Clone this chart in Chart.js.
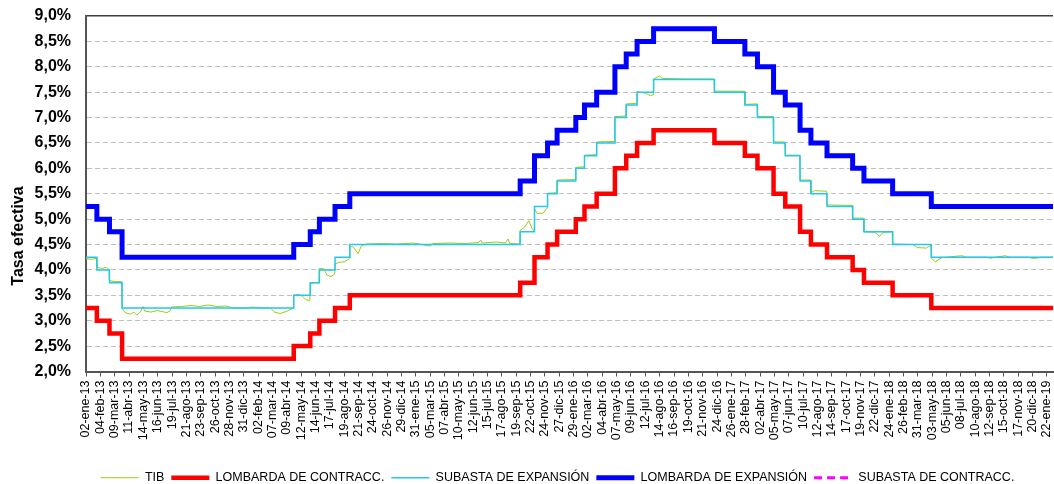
<!DOCTYPE html>
<html>
<head>
<meta charset="utf-8">
<script src="https://cdn.jsdelivr.net/npm/chart.js@4.4.1/dist/chart.umd.min.js"></script>
<style>
  html, body { margin: 0; padding: 0; background: #fff; }
  #wrap { width: 1054px; height: 484px; }
</style>
</head>
<body>
<div id="wrap"><canvas id="tasas"></canvas></div>
<script>
// Eje x: etiquetas cada 33 dias
const tickLabels = [
  '02-ene-13','04-feb-13','09-mar-13','11-abr-13','14-may-13','16-jun-13','19-jul-13','21-ago-13',
  '23-sep-13','26-oct-13','28-nov-13','31-dic-13','02-feb-14','07-mar-14','09-abr-14','12-may-14',
  '14-jun-14','17-jul-14','19-ago-14','21-sep-14','24-oct-14','26-nov-14','29-dic-14','31-ene-15',
  '05-mar-15','07-abr-15','10-may-15','12-jun-15','15-jul-15','17-ago-15','19-sep-15','22-oct-15',
  '24-nov-15','27-dic-15','29-ene-16','02-mar-16','04-abr-16','07-may-16','09-jun-16','12-jul-16',
  '14-ago-16','16-sep-16','19-oct-16','21-nov-16','24-dic-16','26-ene-17','28-feb-17','02-abr-17',
  '05-may-17','07-jun-17','10-jul-17','12-ago-17','14-sep-17','17-oct-17','19-nov-17','22-dic-17',
  '24-ene-18','26-feb-18','31-mar-18','03-may-18','05-jun-18','08-jul-18','10-ago-18','12-sep-18',
  '15-oct-18','17-nov-18','20-dic-18','22-ene-19'
];
const startDate = '2013-01-02';
const endDate = '2019-02-05';

// fechas de cambio de las tasas (escalones)
const stepDates = [
  '2013-01-02','2013-01-27','2013-02-25','2013-03-26','2014-04-25','2014-06-02','2014-06-23','2014-07-29',
  '2014-09-01','2015-09-28','2015-10-31','2015-11-30','2015-12-22','2016-02-03','2016-02-23','2016-03-22',
  '2016-05-03','2016-05-29','2016-06-23','2016-07-31','2016-12-18','2017-02-26','2017-03-27','2017-05-03',
  '2017-05-30','2017-07-03','2017-07-28','2017-09-03','2017-11-01','2017-11-27','2018-02-01','2018-05-01',
  '2019-02-05'
];
const lombardaExp = [
  5.25, 5.0, 4.75, 4.25, 4.5, 4.75, 5.0, 5.25,
  5.5, 5.75, 6.25, 6.5, 6.75, 7.0, 7.25, 7.5,
  8.0, 8.25, 8.5, 8.75, 8.5, 8.25, 8.0, 7.5,
  7.25, 6.75, 6.5, 6.25, 6.0, 5.75, 5.5, 5.25,
  5.25
];
const subastaExp = [
  4.25, 4.0, 3.75, 3.25, 3.5, 3.75, 4.0, 4.25,
  4.5, 4.75, 5.25, 5.5, 5.75, 6.0, 6.25, 6.5,
  7.0, 7.25, 7.5, 7.75, 7.5, 7.25, 7.0, 6.5,
  6.25, 5.75, 5.5, 5.25, 5.0, 4.75, 4.5, 4.25,
  4.25
];
const lombardaContr = [
  3.25, 3.0, 2.75, 2.25, 2.5, 2.75, 3.0, 3.25,
  3.5, 3.75, 4.25, 4.5, 4.75, 5.0, 5.25, 5.5,
  6.0, 6.25, 6.5, 6.75, 6.5, 6.25, 6.0, 5.5,
  5.25, 4.75, 4.5, 4.25, 4.0, 3.75, 3.5, 3.25,
  3.25
];
const subastaContrDates = [];
const subastaContr = [];

// TIB
const tibDates = [
  '2013-01-02','2013-01-14','2013-01-26','2013-01-27','2013-02-08','2013-02-18','2013-02-24','2013-02-25',
  '2013-03-10','2013-03-25','2013-03-26','2013-04-02','2013-04-14','2013-04-22','2013-04-29','2013-05-08',
  '2013-05-13','2013-05-17','2013-06-01','2013-06-15','2013-07-07','2013-07-14','2013-07-18','2013-08-10',
  '2013-09-01','2013-09-20','2013-10-10','2013-10-30','2013-11-20','2013-12-03','2013-12-28','2014-01-20',
  '2014-02-12','2014-03-02','2014-03-12','2014-03-25','2014-04-10','2014-04-24','2014-04-25','2014-05-06',
  '2014-05-15','2014-05-24','2014-06-01','2014-06-02','2014-06-12','2014-06-22','2014-06-23','2014-07-04',
  '2014-07-10','2014-07-20','2014-07-28','2014-07-29','2014-08-08','2014-08-20','2014-08-31','2014-09-01',
  '2014-09-08','2014-09-20','2014-09-28','2014-10-10','2014-11-15','2014-12-20','2015-01-25','2015-03-05',
  '2015-03-12','2015-04-20','2015-05-25','2015-06-25','2015-06-29','2015-07-03','2015-08-05','2015-08-25',
  '2015-08-31','2015-09-04','2015-09-27','2015-09-28','2015-10-08','2015-10-18','2015-10-26','2015-10-30',
  '2015-10-31','2015-11-06','2015-11-20','2015-11-29','2015-11-30','2015-12-21','2015-12-22','2016-02-02',
  '2016-02-03','2016-02-22','2016-02-23','2016-03-21','2016-03-22','2016-05-02','2016-05-03','2016-05-28',
  '2016-05-29','2016-06-22','2016-06-23','2016-07-12','2016-07-24','2016-07-30','2016-07-31','2016-08-14',
  '2016-08-20','2016-10-15','2016-12-17','2016-12-18','2017-02-25','2017-02-26','2017-03-26','2017-03-27',
  '2017-05-02','2017-05-03','2017-05-29','2017-05-30','2017-07-02','2017-07-03','2017-07-27','2017-07-28',
  '2017-08-05','2017-09-02','2017-09-03','2017-10-31','2017-11-01','2017-11-26','2017-11-27','2017-12-22',
  '2018-01-02','2018-01-10','2018-01-31','2018-02-01','2018-03-20','2018-03-30','2018-04-20','2018-04-30',
  '2018-05-01','2018-05-10','2018-05-25','2018-06-15','2018-07-11','2018-07-20','2018-09-05','2018-09-14',
  '2018-09-25','2018-10-19','2018-10-28','2018-12-10','2018-12-18','2018-12-29','2019-01-10','2019-02-05'
];
const tibValues = [
  4.22, 4.21, 4.23, 4.05, 4.03, 4.05, 4.01, 3.79,
  3.77, 3.77, 3.24, 3.16, 3.13, 3.17, 3.11, 3.18,
  3.28, 3.19, 3.17, 3.20, 3.16, 3.19, 3.27, 3.28,
  3.30, 3.28, 3.31, 3.28, 3.29, 3.26, 3.24, 3.27,
  3.25, 3.25, 3.17, 3.14, 3.19, 3.25, 3.50, 3.52,
  3.48, 3.41, 3.40, 3.73, 3.75, 3.74, 4.03, 4.02,
  3.90, 3.87, 3.92, 4.12, 4.15, 4.16, 4.22, 4.45,
  4.46, 4.32, 4.48, 4.51, 4.52, 4.51, 4.53, 4.47,
  4.52, 4.53, 4.52, 4.54, 4.59, 4.53, 4.55, 4.53,
  4.61, 4.52, 4.51, 4.78, 4.84, 4.97, 4.80, 4.77,
  5.20, 5.11, 5.12, 5.22, 5.51, 5.52, 5.77, 5.78,
  6.02, 6.03, 6.26, 6.27, 6.52, 6.53, 7.02, 7.03,
  7.27, 7.28, 7.51, 7.48, 7.43, 7.45, 7.76, 7.82,
  7.77, 7.76, 7.76, 7.52, 7.52, 7.26, 7.27, 7.02,
  7.02, 6.52, 6.52, 6.26, 6.26, 5.77, 5.77, 5.52,
  5.56, 5.55, 5.28, 5.27, 5.02, 5.02, 4.75, 4.74,
  4.66, 4.74, 4.75, 4.51, 4.50, 4.44, 4.43, 4.49,
  4.23, 4.16, 4.24, 4.26, 4.28, 4.25, 4.25, 4.23,
  4.25, 4.28, 4.25, 4.25, 4.23, 4.23, 4.25, 4.25
];

const meses = { ene: 0, feb: 1, mar: 2, abr: 3, may: 4, jun: 5, jul: 6, ago: 7, sep: 8, oct: 9, nov: 10, dic: 11 };

function isoToUTC(s) {
    const p = s.split('-').map(Number);
    return Date.UTC(p[0], p[1] - 1, p[2]);
}
const T0 = isoToUTC(startDate);

function dayOf(s) {
    return Math.round((isoToUTC(s) - T0) / 86400000);
}
function tickDay(lbl) {
    const p = lbl.split('-');
    return Math.round((Date.UTC(2000 + Number(p[2]), meses[p[1]], Number(p[0])) - T0) / 86400000);
}
function points(dates, values) {
    return dates.map((d, i) => ({ x: dayOf(d), y: values[i] }));
}

const tickDays = tickLabels.map(tickDay);

// titulo del eje y + ajuste de la leyenda
const tituloEje = {
    id: 'tituloEje',
    afterLayout(chart) {
        // la leyenda del original esta algo corrida a la derecha y abajo
        const lg = chart.legend;
        lg.left += 62;
        lg.top += 10;
        lg.bottom += 10;
    },
    afterDraw(chart) {
        const ctx = chart.ctx;
        ctx.save();
        ctx.translate(19, 236);
        ctx.rotate(-Math.PI / 2);
        ctx.font = 'bold 16px Arial, "Liberation Sans"';
        ctx.fillStyle = '#000';
        ctx.textAlign = 'center';
        ctx.textBaseline = 'middle';
        ctx.fillText('Tasa efectiva', 0, 0);
        ctx.restore();
    }
};

const ctx = document.getElementById('tasas').getContext('2d');

new Chart(ctx, {
    type: 'line',
    data: {
        datasets: [
            {
                label: 'TIB',
                data: points(tibDates, tibValues),
                borderColor: '#9acd10',
                borderWidth: 1,
                order: 4
            },
            {
                label: 'LOMBARDA DE CONTRACC.',
                data: points(stepDates, lombardaContr),
                borderColor: '#ff0000',
                borderWidth: 4.5,
                stepped: true,
                order: 2
            },
            {
                label: 'SUBASTA DE EXPANSIÓN',
                data: points(stepDates, subastaExp),
                borderColor: '#22c8f0',
                borderWidth: 1.5,
                stepped: true,
                order: 3
            },
            {
                label: 'LOMBARDA DE EXPANSIÓN',
                data: points(stepDates, lombardaExp),
                borderColor: '#0000ff',
                borderWidth: 5,
                stepped: true,
                order: 1
            },
            {
                label: 'SUBASTA DE CONTRACC.',
                data: points(subastaContrDates, subastaContr),
                borderColor: '#ff00ff',
                borderWidth: 3,
                borderDash: [8, 5],
                stepped: true,
                order: 0
            }
        ]
    },
    options: {
        responsive: true,
        maintainAspectRatio: false,
        animation: false,
        layout: { padding: { top: 16, right: 1, left: 0, bottom: 0 } },
        elements: {
            point: { radius: 0, hoverRadius: 0, pointStyle: 'line' },
            line: { tension: 0, fill: false, borderCapStyle: 'butt', borderJoinStyle: 'miter' }
        },
        plugins: {
            tooltip: { enabled: false },
            legend: {
                position: 'bottom',
                labels: {
                    usePointStyle: true,
                    pointStyle: 'line',
                    pointStyleWidth: 38,
                    padding: 7,
                    color: '#000',
                    font: { family: 'Arial, "Liberation Sans"', size: 12.5 },
                    sort: (a, b) => a.datasetIndex - b.datasetIndex,
                    generateLabels: (chart) => {
                        const items = Chart.defaults.plugins.legend.labels.generateLabels(chart);
                        items.forEach(it => {
                            const ds = chart.data.datasets[it.datasetIndex];
                            it.lineDash = ds.borderDash || [];
                            it.lineWidth = ds.borderWidth;
                            it.strokeStyle = ds.borderColor;
                        });
                        return items;
                    }
                }
            }
        },
        scales: {
            x: {
                type: 'linear',
                min: 0,
                max: dayOf(endDate),
                afterBuildTicks: (scale) => {
                    scale.ticks = tickDays.map(v => ({ value: v }));
                },
                afterFit: (scale) => {
                    scale.height = 83;
                    scale.paddingLeft = 0;
                    scale.paddingRight = 0;
                },
                ticks: {
                    autoSkip: false,
                    minRotation: 90,
                    maxRotation: 90,
                    padding: 4,
                    color: '#000',
                    font: { family: 'Arial, "Liberation Sans"', size: 12.5 },
                    callback: (v, i) => tickLabels[i]
                },
                grid: {
                    drawOnChartArea: false,
                    drawTicks: true,
                    tickLength: 5,
                    tickColor: '#555',
                    tickWidth: 1
                },
                border: { display: true, color: '#555', width: 2 }
            },
            y: {
                min: 2,
                max: 9,
                afterFit: (scale) => {
                    scale.width = 86;
                    scale.paddingTop = 0;
                    scale.paddingBottom = 0;
                },
                ticks: {
                    stepSize: 0.5,
                    padding: 15,
                    color: '#000',
                    font: { family: 'Arial, "Liberation Sans"', size: 16, weight: 'bold' },
                    callback: (v) => v.toFixed(1).replace('.', ',') + '%'
                },
                grid: {
                    drawTicks: false,
                    color: (c) => (c.tick && c.tick.value === 9) ? '#404040' : '#c0c0c0',
                    lineWidth: (c) => (c.tick && c.tick.value === 9) ? 1.5 : 1
                },
                border: {
                    display: true,
                    color: '#555',
                    width: 2,
                    dash: (c) => (c.tick && c.tick.value === 9) ? [] : [5, 3]
                }
            }
        }
    },
    plugins: [tituloEje]
});
</script>
</body>
</html>
